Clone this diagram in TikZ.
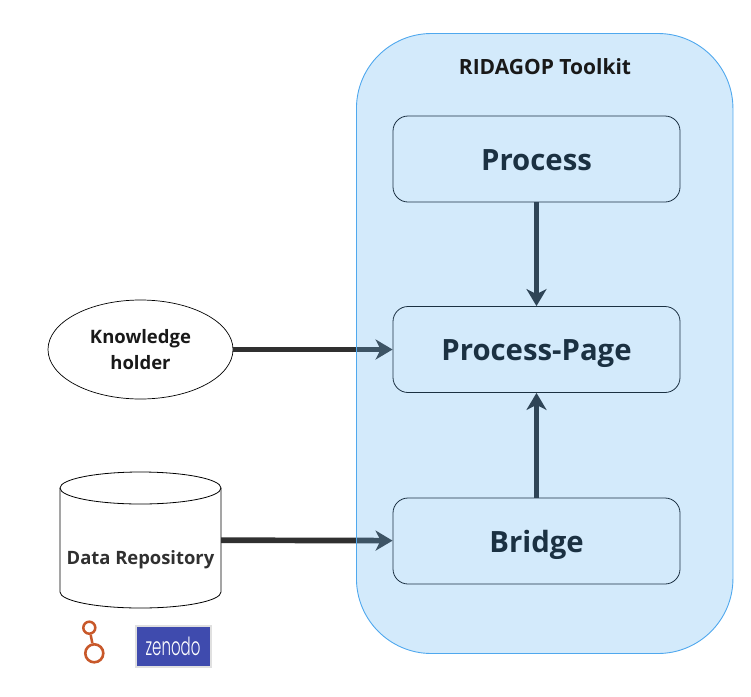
\documentclass[tikz,border=0pt]{standalone}
\usepackage{fontspec}
\setmainfont{Open Sans}
\newfontfamily\zenofont[UprightFont=* Light,FakeStretch=0.6]{Poppins}
\usetikzlibrary{arrows.meta,shapes.geometric}
\definecolor{toolkitblue}{RGB}{98,178,240}
\definecolor{toolkitline}{RGB}{79,168,238}
\definecolor{linkgrey}{RGB}{48,48,48}
\definecolor{linkdark}{RGB}{28,28,28}
\definecolor{iconorange}{RGB}{200,88,42}
\definecolor{zenodoblue}{RGB}{63,75,174}
\tikzstyle{stage} = [draw, line width=0.8pt, rounded corners=15pt, minimum width=287pt, minimum height=86pt, inner sep=0pt, text height=22pt, text depth=0pt, font=\fontsize{29.3}{34}\selectfont\bfseries]
\tikzstyle{holder} = [draw, line width=0.7pt, ellipse, minimum width=185pt, minimum height=99pt, inner sep=0pt, align=center, font=\fontsize{18.5}{26}\selectfont\bfseries, text=black!90]
\tikzstyle{repository} = [minimum width=161pt, minimum height=136pt, inner sep=0pt]
\tikzstyle{repoline} = [draw, line width=0.8pt]
\tikzstyle{link} = [draw=linkgrey, line width=5.7pt, -{Stealth[length=17pt,width=20pt,inset=5pt]}]
\tikzstyle{inner link} = [link, draw=linkdark]
\tikzstyle{toolkit} = [draw=toolkitline, line width=0.9pt, fill=toolkitblue, fill opacity=0.28, draw opacity=1, rounded corners=75pt, minimum width=376.5pt, minimum height=620pt, inner sep=0pt]
\begin{document}
\begin{tikzpicture}[x=1pt,y=-1pt]
	\useasboundingbox (0,0) rectangle (751,696);
	% First we draw the stages
	\foreach \pos/\label/\name in {
		{(536.5,159)/process/Process},
		{(536.5,349.5)/page/Process-Page},
		{(536.5,541)/bridge/Bridge}}
	\node[stage] (\label) at \pos {\name};

	\node[holder] (knowledge) at (140.5,349.5) {Knowledge\\holder};

	% The repository is drawn by hand around its node
	\node[repository] (repo) at (140.5,540) {};
	\path[repoline] (140.5,488) ellipse [x radius=80.5, y radius=16];
	\path[repoline] (60,488) -- (60,592) arc [start angle=180, end angle=0, x radius=80.5, y radius=16] -- (221,488);
	\node[font=\fontsize{18.4}{22}\selectfont\bfseries, text=linkgrey] (repotext) at (140.5,560) {Data Repository};

	% Connect them with arrows
	\foreach \source/\dest in {
		process/page,
		bridge/page}
	\path[inner link] (\source) -- (\dest);
	\foreach \source/\dest in {
		knowledge/page,
		repo/bridge}
	\path[link] (\source) -- (\dest);

	% The toolkit tints what lies under it
	\node[toolkit] (toolkit) at (544.7,343.5) {};
	\node[font=\fontsize{21}{24}\selectfont\bfseries, text=black!90] (title) at (545,67) {RIDAGOP Toolkit};

	% Icons under the repository
	\node[circle, draw=iconorange, line width=2.5pt, minimum size=12pt, inner sep=0pt] (ringsmall) at (89.3,627.7) {};
	\node[circle, draw=iconorange, line width=2.6pt, minimum size=18pt, inner sep=0pt] (ringbig) at (94.3,653.3) {};
	\draw[iconorange, line width=2.5pt] (ringsmall) -- (ringbig);
	\node[fill=zenodoblue, draw=black!12, line width=2pt, minimum width=75pt, minimum height=41pt, inner sep=0pt, text=white, font=\fontsize{25}{28}\zenofont] (zenodo) at (173,646) {zenodo};
\end{tikzpicture}
\end{document}
